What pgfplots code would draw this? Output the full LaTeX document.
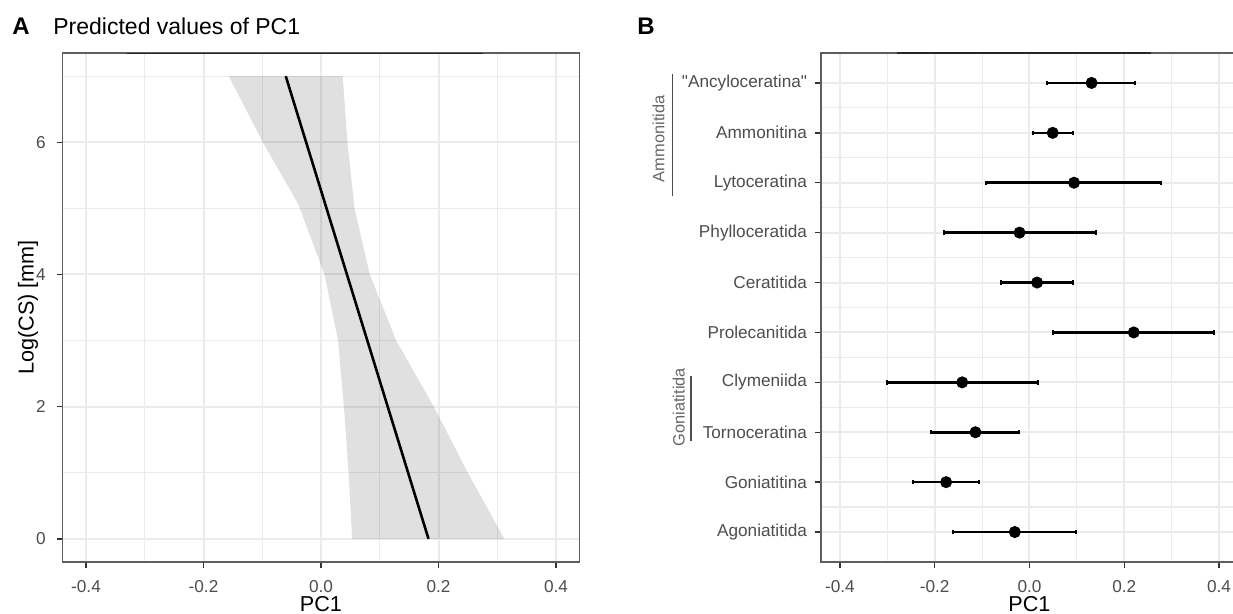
\documentclass[border=0pt]{standalone}
\usepackage{fontspec}
\setmainfont{Liberation Sans}[Ligatures=TeXOff]
\usepackage{pgfplots}
\usepackage{pgfplotstable}
\pgfplotsset{compat=1.18}
\definecolor{gridc}{HTML}{EBEBEB}
\definecolor{tickc}{HTML}{4D4D4D}
\definecolor{borderc}{HTML}{5E5E5E}
\definecolor{groupc}{HTML}{666666}

\pgfplotstableread{
x       y  ep     em
-0.031  1  0.129  0.131
-0.176  2  0.069  0.070
-0.114  3  0.091  0.093
-0.142  4  0.160  0.159
 0.220  5  0.170  0.171
 0.016  6  0.076  0.076
-0.021  7  0.161  0.159
 0.094  8  0.184  0.185
 0.049  9  0.042  0.041
 0.131 10  0.092  0.095
}\orders

\pgfplotsset{
  panel/.style={
    scale only axis,
    height=254.5pt,
    xmin=-0.44, xmax=0.44,
    axis line style={borderc, line width=0.7pt},
    tick align=outside,
    major tick length=3pt,
    minor tick length=0pt,
    tick pos=left,
    major tick style={color=black!80, line width=0.7pt},
    grid=both,
    major grid style={gridc, line width=1pt},
    minor grid style={gridc, line width=0.6pt},
    xtick={-0.4,-0.2,0,0.2,0.4},
    xticklabels={-0.4,-0.2,0.0,0.2,0.4},
    minor xtick={-0.3,-0.1,0.1,0.3},
    xticklabel style={font=\fontsize{8.6}{10}\selectfont, text=tickc, inner sep=0pt, anchor=north, yshift=-6pt},
    xlabel={PC1},
    xlabel style={font=\fontsize{10.8}{12}\selectfont, at={(axis description cs:0.5,-0.0963)}, anchor=base},
  }
}

\begin{document}
\begin{tikzpicture}
\useasboundingbox (0,0) rectangle (616.5pt,307pt);

% Panel A
\begin{axis}[panel,
  at={(31.25pt,26pt)}, anchor=south west,
  width=258.5pt,
  ymin=-0.35, ymax=7.35,
  ytick={0,2,4,6},
  yticklabels={0,2,4,6},
  minor ytick={1,3,5,7},
  yticklabel style={font=\fontsize{8.6}{10}\selectfont, text=tickc, inner sep=0pt, anchor=east, xshift=-5.2pt},
  ylabel={Log(CS) [mm]},
  ylabel style={font=\fontsize{10.8}{12}\selectfont, at={(axis description cs:-0.0667,0.5)}, anchor=center},
]
\addplot[draw=none, fill=black, fill opacity=0.12] coordinates {
  (0.312,0) (0.250,1) (0.192,2) (0.128,3) (0.083,4) (0.057,5) (0.045,6) (0.037,7)
  (-0.157,7) (-0.099,6) (-0.039,5.07) (0.006,4) (0.029,3) (0.039,2) (0.047,1) (0.053,0)
};
\addplot[black, line width=1.3pt, mark=none] coordinates {(0.183,0) (-0.060,7)};
\draw[black!85, line width=0.8pt] (rel axis cs:0.125,1) -- (rel axis cs:0.813,1);
\end{axis}

% Panel B
\begin{axis}[panel,
  at={(410.5pt,26pt)}, anchor=south west,
  width=208.5pt,
  clip=false,
  ymin=0.4, ymax=10.6,
  ytick={1,2,3,4,5,6,7,8,9,10},
  yticklabels={Agoniatitida,Goniatitina,Tornoceratina,Clymeniida,Prolecanitida,Ceratitida,Phylloceratida,Lytoceratina,Ammonitina,"Ancyloceratina"},
  minor ytick={1.5,2.5,3.5,4.5,5.5,6.5,7.5,8.5,9.5},
  yticklabel style={font=\fontsize{8.6}{10}\selectfont, text=tickc, inner sep=0pt, anchor=east, xshift=-3.8pt},
]
\addplot[only marks, mark=*, mark size=2.8pt, black,
  error bars/.cd, x dir=both, x explicit,
  error bar style={line width=1.3pt, black},
  error mark=|,
  error mark options={mark size=1.1pt, line width=1pt, black}]
  table[x=x, y=y, x error plus=ep, x error minus=em] {\orders};
\draw[black!70, line width=0.7pt] (axis cs:-0.753,10.17) -- (axis cs:-0.753,7.73);
\node[rotate=90, text=groupc, font=\fontsize{8.2}{10}\selectfont, inner sep=0pt] at (axis cs:-0.783,8.88) {Ammonitida};
\draw[black!70, line width=0.7pt] (axis cs:-0.714,4.13) -- (axis cs:-0.714,2.82);
\node[rotate=90, text=groupc, font=\fontsize{8.2}{10}\selectfont, inner sep=0pt] at (axis cs:-0.740,3.50) {Goniatitida};
\draw[black!85, line width=0.8pt] (rel axis cs:0.182,1) -- (rel axis cs:0.791,1);
\end{axis}

\node[anchor=base west, font=\bfseries\fontsize{12}{14}\selectfont, inner sep=0pt] at (6pt,289.5pt) {A};
\node[anchor=base west, font=\fontsize{11.5}{14}\selectfont, inner sep=0pt] at (26.5pt,289.5pt) {Predicted values of PC1};
\node[anchor=base west, font=\bfseries\fontsize{12}{14}\selectfont, inner sep=0pt] at (318.5pt,289.5pt) {B};
\end{tikzpicture}
\end{document}
